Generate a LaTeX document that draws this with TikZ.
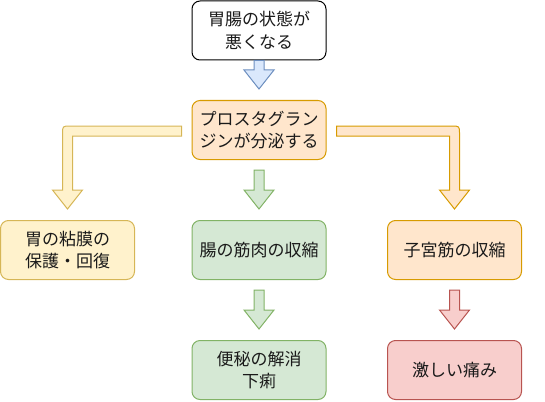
\documentclass[tikz,border=0pt]{standalone}
\usepackage{fontspec}
\setmainfont{Noto Sans CJK JP}
\usetikzlibrary{calc}
\definecolor{blueF}{HTML}{DAE8FC}\definecolor{blueD}{HTML}{6C8EBF}
\definecolor{orangeF}{HTML}{FFE6CC}\definecolor{orangeD}{HTML}{D79B00}
\definecolor{yellowF}{HTML}{FFF2CC}\definecolor{yellowD}{HTML}{D6B656}
\definecolor{greenF}{HTML}{D5E8D4}\definecolor{greenD}{HTML}{82B366}
\definecolor{redF}{HTML}{F8CECC}\definecolor{redD}{HTML}{B85450}
\definecolor{txt}{HTML}{1A1A1A}
\begin{document}
\begin{tikzpicture}[x=1pt,y=-1pt,
  box/.style={draw, line width=1pt, rounded corners=8pt, minimum width=134pt, minimum height=59pt,
    align=center, inner sep=0pt, text=txt, font=\fontsize{17}{22.5}\selectfont},
  wbox/.style={box, fill=white, draw=black},
  obox/.style={box, fill=orangeF, draw=orangeD},
  ybox/.style={box, fill=yellowF, draw=yellowD},
  gbox/.style={box, fill=greenF, draw=greenD},
  rbox/.style={box, fill=redF, draw=redD},
  barrow/.style={line width=1pt, line join=miter},
]
\useasboundingbox (0,0) rectangle (545,401);

\node[wbox] (top)    at (259,30.5) {胃腸の状態が\\悪くなる};
\node[obox] (prost)  at (259,130)  {プロスタグラン\\ジンが分泌する};
\node[ybox] (left)   at (67.5,250) {胃の粘膜の\\保護・回復};
\node[gbox] (mid)    at (259,250)  {腸の筋肉の収縮};
\node[obox] (right)  at (454.5,250){子宮筋の収縮};
\node[gbox] (bmid)   at (259,370)  {便秘の解消\\下痢};
\node[rbox] (bright) at (454.5,370){激しい痛み};

% straight block arrows: #1 start, #2 tip
\newcommand{\blockdown}[3]{%
  \draw[barrow,#3] ($(#1)+(-5,0)$) -- ($(#2)+(-5,-19)$) -- ($(#2)+(-15,-19)$) -- (#2)
    -- ($(#2)+(15,-19)$) -- ($(#2)+(5,-19)$) -- ($(#1)+(5,0)$) -- cycle;}

\coordinate (a1s) at (top.south);
\coordinate (a1t) at ($(prost.north)+(0,-11)$);
\blockdown{a1s}{a1t}{fill=blueF, draw=blueD}

\coordinate (a2s) at ($(prost.south)+(0,10)$);
\coordinate (a2t) at ($(mid.north)+(0,-11)$);
\blockdown{a2s}{a2t}{fill=greenF, draw=greenD}

\coordinate (a3s) at ($(mid.south)+(0,10)$);
\coordinate (a3t) at ($(bmid.north)+(0,-11)$);
\blockdown{a3s}{a3t}{fill=greenF, draw=greenD}

\coordinate (a4s) at ($(right.south)+(0,10)$);
\coordinate (a4t) at ($(bright.north)+(0,-11)$);
\blockdown{a4s}{a4t}{fill=redF, draw=redD}

% elbow arrow to the left
\coordinate (L0) at ($(prost.west)+(-10,1)$);
\coordinate (Lc) at ($(left.north |- L0)+(-5,-5)$);
\coordinate (Lt) at ($(left.north)+(0,-11)$);
\draw[barrow, fill=yellowF, draw=yellowD]
  ($(L0)+(0,-5)$) -- ($(Lc)+(8,0)$) .. controls (Lc) .. ($(Lc)+(0,8)$)
  -- ($(Lt)+(-5,-19)$) -- ($(Lt)+(-15,-19)$) -- (Lt) -- ($(Lt)+(15,-19)$)
  -- ($(Lt)+(5,-19)$) -- ($(Lc)+(10,10)$) -- ($(L0)+(0,5)$) -- cycle;

% elbow arrow to the right
\coordinate (R0) at ($(prost.east)+(10,1)$);
\coordinate (Rc) at ($(right.north |- R0)+(5,-5)$);
\coordinate (Rt) at ($(right.north)+(0,-11)$);
\draw[barrow, fill=orangeF, draw=orangeD]
  ($(R0)+(0,-5)$) -- ($(Rc)+(-8,0)$) .. controls (Rc) .. ($(Rc)+(0,8)$)
  -- ($(Rt)+(5,-19)$) -- ($(Rt)+(15,-19)$) -- (Rt) -- ($(Rt)+(-15,-19)$)
  -- ($(Rt)+(-5,-19)$) -- ($(Rc)+(-10,10)$) -- ($(R0)+(0,5)$) -- cycle;
\end{tikzpicture}
\end{document}
